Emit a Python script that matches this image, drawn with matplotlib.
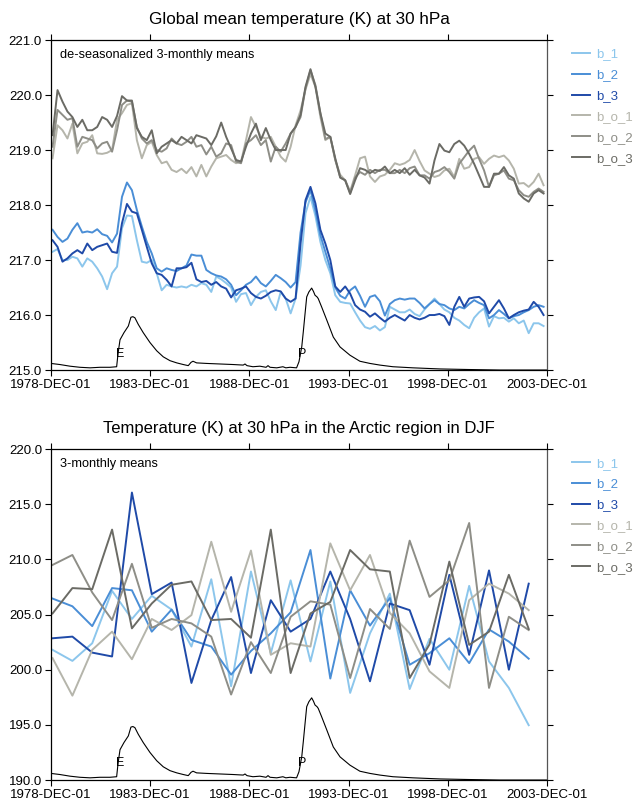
import matplotlib
matplotlib.use("Agg")
import matplotlib.pyplot as plt
import numpy as np

plt.rcParams['font.family'] = ['Liberation Sans', 'DejaVu Sans']

# x axis: years since 1978-DEC-01
tick_years = [0, 5, 10, 15, 20, 25]
tick_labels = ["1978-DEC-01", "1983-DEC-01", "1988-DEC-01",
               "1993-DEC-01", "1998-DEC-01", "2003-DEC-01"]

names = ["b_1", "b_2", "b_3", "b_o_1", "b_o_2", "b_o_3"]
colors = ["#8cc6ec", "#4a8ed6", "#1f4aa8", "#b5b5ab", "#8e8e87", "#6b6b65"]

# ---- global mean, de-seasonalized 3-monthly means (quarterly, from Jan 1979)
glob_b_1 = [217.15, 217.2, 217.0, 217.0, 217.06, 217.03, 216.88, 217.03, 216.97, 216.85,
            216.7, 216.47, 216.76, 216.88, 217.58, 217.81, 217.8, 217.36, 216.97, 216.95,
            217.0, 216.76, 216.45, 216.55, 216.52, 216.5, 216.52, 216.5, 216.55, 216.52,
            216.58, 216.55, 216.42, 216.7, 216.65, 216.58, 216.5, 216.24, 216.38, 216.4,
            216.18, 216.33, 216.42, 216.45, 216.25, 216.09, 216.42, 216.3, 216.03, 216.3,
            216.9, 217.85, 218.15, 217.8, 217.33, 217.0, 216.76, 216.36, 216.24, 216.22,
            216.21, 216.05, 215.9, 215.78, 215.75, 215.8, 215.72, 215.78, 216.15, 216.1,
            216.05, 216.05, 216.1, 216.02, 215.98, 216.1, 216.2, 216.3, 216.2, 216.1,
            216.05, 215.95, 215.9, 215.82, 215.76, 215.95, 216.05, 216.12, 215.79, 215.98,
            215.94, 215.95, 215.88, 215.94, 215.85, 215.9, 215.67, 215.85, 215.85, 215.8]
glob_b_2 = [217.55, 217.42, 217.33, 217.39, 217.55, 217.67, 217.5, 217.52, 217.5, 217.56,
            217.47, 217.44, 217.32, 217.48, 218.15, 218.41, 218.27, 217.91, 217.61, 217.33,
            217.12, 216.85, 216.79, 216.85, 216.82, 216.8, 216.85, 216.9, 217.1, 217.08,
            217.08, 216.82, 216.76, 216.72, 216.7, 216.65, 216.55, 216.36, 216.45, 216.55,
            216.6, 216.7, 216.58, 216.52, 216.62, 216.73, 216.67, 216.6, 216.5, 216.6,
            217.5, 218.05, 218.27, 217.9, 217.45, 217.15, 216.85, 216.5, 216.35, 216.3,
            216.45, 216.52, 216.35, 216.15, 216.33, 216.36, 216.25, 215.99, 216.2, 216.27,
            216.3, 216.28, 216.3, 216.3, 216.22, 216.12, 216.2, 216.27, 216.2, 216.18,
            216.12, 216.09, 216.15, 216.12, 216.2, 216.27, 216.22, 216.18, 215.94, 216.0,
            216.09, 216.02, 215.94, 215.98, 216.0, 216.05, 216.09, 216.15, 216.18, 216.15]
glob_b_3 = [217.36, 217.24, 216.97, 217.03, 217.12, 217.18, 217.12, 217.3, 217.18, 217.24,
            217.27, 217.3, 217.15, 217.13, 217.67, 218.02, 217.88, 217.85, 217.55, 217.24,
            216.94, 216.76, 216.73, 216.64, 216.52, 216.85, 216.85, 216.87, 216.95, 216.65,
            216.6, 216.62, 216.55, 216.6, 216.52, 216.48, 216.32, 216.45, 216.48, 216.52,
            216.4, 216.33, 216.3, 216.35, 216.42, 216.45, 216.43, 216.3, 216.24, 216.3,
            217.3, 218.09, 218.33, 218.03, 217.55, 217.3, 217.0, 216.52, 216.42, 216.52,
            216.39, 216.18, 216.1, 216.06, 215.97, 216.03, 215.95, 215.88, 215.95, 216.0,
            215.95, 215.9, 216.0, 215.95, 215.92, 215.95, 216.0, 216.0, 216.02, 215.98,
            215.82, 216.15, 216.33, 216.15, 216.3, 216.32, 216.33, 216.25, 216.03, 216.15,
            216.27, 216.12, 215.94, 216.0, 216.05, 216.08, 216.1, 216.24, 216.15, 216.0]
glob_b_o_1 = [218.85, 219.45, 219.36, 219.21, 219.48, 218.94, 219.12, 219.15, 219.27, 218.94,
              218.93, 218.95, 219.0, 219.55, 219.67, 219.82, 219.85, 219.18, 218.85, 219.09,
              219.15, 218.91, 218.76, 218.79, 218.64, 218.6, 218.66, 218.58, 218.69, 218.52,
              218.73, 218.52, 218.7, 218.85, 218.88, 218.91, 218.82, 218.76, 218.79, 219.18,
              219.6, 219.42, 219.24, 219.21, 219.24, 219.06, 218.88, 218.79, 219.06, 219.45,
              219.72, 220.1, 220.38, 220.15, 219.6, 219.18, 219.24, 218.82, 218.55, 218.45,
              218.25, 218.54, 218.85, 218.88, 218.52, 218.42, 218.52, 218.55, 218.64, 218.76,
              218.73, 218.76, 218.82, 219.0, 218.8, 218.63, 218.57, 218.51, 218.54, 218.63,
              218.66, 218.51, 218.84, 218.66, 218.69, 218.84, 218.87, 218.75, 218.84, 218.9,
              218.87, 218.9, 218.81, 218.66, 218.39, 218.4, 218.33, 218.42, 218.57, 218.36]
glob_b_o_2 = [219.06, 219.73, 219.64, 219.55, 219.58, 219.06, 219.24, 219.21, 219.18, 219.03,
              219.12, 219.15, 218.97, 219.36, 219.82, 219.9, 219.88, 219.42, 219.21, 219.12,
              219.18, 219.0, 218.97, 219.03, 219.21, 219.12, 219.09, 219.15, 219.24, 219.06,
              219.09, 218.92, 219.06, 218.88, 218.94, 219.12, 219.09, 218.79, 218.76, 219.12,
              219.18, 219.27, 219.09, 219.18, 218.79, 219.06, 218.97, 219.12, 219.3, 219.42,
              219.6, 220.12, 220.45, 220.18, 219.67, 219.2, 219.24, 218.82, 218.5, 218.45,
              218.22, 218.5, 218.6, 218.55, 218.64, 218.58, 218.64, 218.64, 218.58, 218.58,
              218.64, 218.58, 218.67, 218.7, 218.54, 218.54, 218.48, 218.6, 218.63, 218.69,
              218.6, 218.48, 218.75, 218.87, 218.99, 219.08, 218.84, 218.63, 218.33, 218.54,
              218.57, 218.63, 218.48, 218.45, 218.27, 218.18, 218.15, 218.24, 218.3, 218.24]
glob_b_o_3 = [219.27, 220.09, 219.88, 219.7, 219.6, 219.42, 219.55, 219.36, 219.36, 219.42,
              219.6, 219.55, 219.42, 219.62, 219.98, 219.9, 219.9, 219.4, 219.24, 219.18,
              219.36, 218.94, 219.06, 219.12, 219.18, 219.12, 219.24, 219.18, 219.12, 219.27,
              219.24, 219.21, 219.09, 219.25, 219.5, 219.24, 219.03, 218.82, 218.79, 219.06,
              219.3, 219.48, 219.18, 219.4, 219.18, 219.0, 219.0, 219.0, 219.3, 219.42,
              219.64, 220.15, 220.47, 220.15, 219.67, 219.3, 219.24, 218.85, 218.5, 218.45,
              218.2, 218.45, 218.67, 218.64, 218.58, 218.64, 218.62, 218.7, 218.58, 218.64,
              218.58, 218.67, 218.55, 218.64, 218.54, 218.5, 218.39, 218.81, 219.11, 218.99,
              218.96, 219.11, 219.17, 219.08, 218.93, 218.75, 218.54, 218.33, 218.33, 218.57,
              218.57, 218.69, 218.54, 218.48, 218.21, 218.12, 218.06, 218.21, 218.27, 218.21]

# ---- Arctic DJF 3-monthly means (one per winter)
djf_b_1 = [201.8, 200.8, 202.4, 207.15, 204.6, 206.7, 205.45, 202.1, 208.2, 198.5,
           208.9, 201.5, 208.1, 200.75, 208.0, 197.9, 203.3, 206.9, 198.25, 202.8,
           200.0, 207.6, 200.75, 198.35, 194.97]
djf_b_2 = [206.45, 205.75, 203.95, 207.4, 207.2, 203.45, 205.45, 202.7, 202.1, 199.55,
           201.7, 203.3, 205.2, 210.85, 199.2, 207.2, 204.0, 206.5, 200.45, 201.5,
           202.85, 200.6, 203.65, 202.55, 201.0]
djf_b_3 = [202.85, 203.0, 201.55, 201.2, 216.06, 206.85, 207.9, 198.8, 204.5, 208.4,
           199.7, 206.3, 203.45, 204.6, 208.9, 204.6, 198.95, 206.0, 205.4, 200.45,
           208.6, 201.35, 209.0, 200.0, 207.8]
djf_b_o_1 = [201.05, 197.65, 201.8, 203.45, 200.95, 204.6, 203.6, 204.95, 211.6, 205.25,
             210.8, 201.35, 202.4, 202.1, 211.45, 207.2, 210.4, 205.15, 203.3, 199.85,
             198.35, 206.3, 207.8, 206.9, 205.4]
djf_b_o_2 = [209.5, 210.4, 207.0, 204.5, 209.6, 203.8, 204.6, 204.2, 203.0, 197.75,
             202.5, 199.7, 204.8, 206.2, 205.9, 199.25, 205.5, 203.7, 211.7, 206.6,
             208.1, 213.3, 198.35, 204.8, 203.6]
djf_b_o_3 = [205.1, 207.4, 207.3, 212.7, 203.75, 206.0, 207.7, 208.0, 204.5, 204.6,
             202.9, 212.7, 199.7, 205.1, 206.15, 210.85, 209.1, 208.9, 199.25, 202.3,
             209.8, 202.25, 203.45, 208.6, 203.7]

# ---- volcanic aerosol index (scaled, K above axis base in upper panel)
aer_t = [0.0, 0.45, 0.96, 1.46, 1.97, 2.47, 2.97, 3.31, 3.38, 3.48, 3.68, 3.9, 4.03, 4.13,
         4.23, 4.4, 4.65, 4.99, 5.33, 5.66, 6.0, 6.34, 6.67, 6.92, 7.06, 7.16, 7.34, 7.85,
         8.52, 9.19, 9.69, 9.78, 9.88, 10.18, 10.53, 10.84, 10.94, 11.04, 11.38, 11.69,
         11.84, 12.05, 12.38, 12.5, 12.64, 12.72, 12.8, 12.89, 13.0, 13.14, 13.23, 13.31,
         13.41, 13.47, 13.64, 13.9, 14.23, 14.57, 15.07, 15.57, 16.08, 16.58, 17.24, 18.25,
         19.61, 20.97, 22.63, 25.0]
aer_v = [0.12, 0.1, 0.07, 0.05, 0.04, 0.05, 0.05, 0.06, 0.3, 0.55, 0.68, 0.8, 0.96, 0.97,
         0.95, 0.83, 0.68, 0.5, 0.35, 0.24, 0.17, 0.13, 0.1, 0.08, 0.14, 0.16, 0.13, 0.12,
         0.11, 0.1, 0.09, 0.11, 0.08, 0.06, 0.07, 0.05, 0.08, 0.05, 0.04, 0.06,
         0.04, 0.05, 0.04, 0.15, 0.42, 0.7, 1.0, 1.33, 1.42, 1.49, 1.43, 1.36,
         1.33, 1.3, 1.15, 0.91, 0.6, 0.42, 0.27, 0.16, 0.12, 0.09, 0.06, 0.04,
         0.02, 0.01, 0.0, 0.0]
eruptions = ["E", "P"]
eruption_t = [3.48, 12.65]

t_q = 0.08 + 0.25 * np.arange(len(glob_b_1))
t_y = 0.08 + np.arange(len(djf_b_1))

glob = [glob_b_1, glob_b_2, glob_b_3, glob_b_o_1, glob_b_o_2, glob_b_o_3]
djf = [djf_b_1, djf_b_2, djf_b_3, djf_b_o_1, djf_b_o_2, djf_b_o_3]

fig = plt.figure(figsize=(6.34, 8.09), dpi=100)
ax1 = fig.add_axes([0.0804, 0.5426, 0.7823, 0.4079])
ax2 = fig.add_axes([0.0804, 0.0358, 0.7823, 0.4091])


def style(ax, ylo, yhi, step, label_text):
    ax.set_xlim(0, 25)
    ax.set_ylim(ylo, yhi)
    ax.set_xticks(tick_years)
    ax.set_xticklabels(tick_labels)
    yt = np.arange(ylo, yhi + 0.001, step)
    ax.set_yticks(yt)
    ax.set_yticklabels([f"{v:.1f}" for v in yt])
    ax.tick_params(direction="out", length=4, width=0.8, labelsize=9.5,
                   top=True, right=True, pad=2.5)
    for s in ax.spines.values():
        s.set_linewidth(0.9)
    ax.spines["right"].set_color("#555555")
    ax.text(0.018, 0.955, label_text, transform=ax.transAxes, fontsize=9.2,
            va="center", ha="left")


# upper panel
for vals, name, c in zip(glob, names, colors):
    ax1.plot(t_q, vals, color=c, lw=1.4, label=name)
ax1.plot(aer_t, 215 + np.array(aer_v), color="black", lw=0.8)
for lab, t in zip(eruptions, eruption_t):
    ax1.text(t, 215.3, lab, ha="center", va="center", fontsize=9)
style(ax1, 215, 221, 1, "de-seasonalized 3-monthly means")
ax1.set_title("Global mean temperature (K) at 30 hPa", fontsize=12.3, pad=11.5)

# lower panel
for vals, name, c in zip(djf, names, colors):
    ax2.plot(t_y, vals, color=c, lw=1.4, label=name)
ax2.plot(aer_t, 190 + 5 * np.array(aer_v), color="black", lw=0.8)
for lab, t in zip(eruptions, eruption_t):
    ax2.text(t, 191.5, lab, ha="center", va="center", fontsize=9)
style(ax2, 190, 220, 5, "3-monthly means")
ax2.set_title("Temperature (K) at 30 hPa in the Arctic region in DJF",
              fontsize=12, pad=11.5)

for ax in (ax1, ax2):
    leg = ax.legend(loc="upper left", bbox_to_anchor=(1.05, 0.975), frameon=False,
                    fontsize=9.5, handlelength=1.35, handletextpad=0.5,
                    labelspacing=0.65, borderpad=0, borderaxespad=0)
    for txt, c in zip(leg.get_texts(), colors):
        txt.set_color(c)

fig.savefig("out.png", dpi=100)
